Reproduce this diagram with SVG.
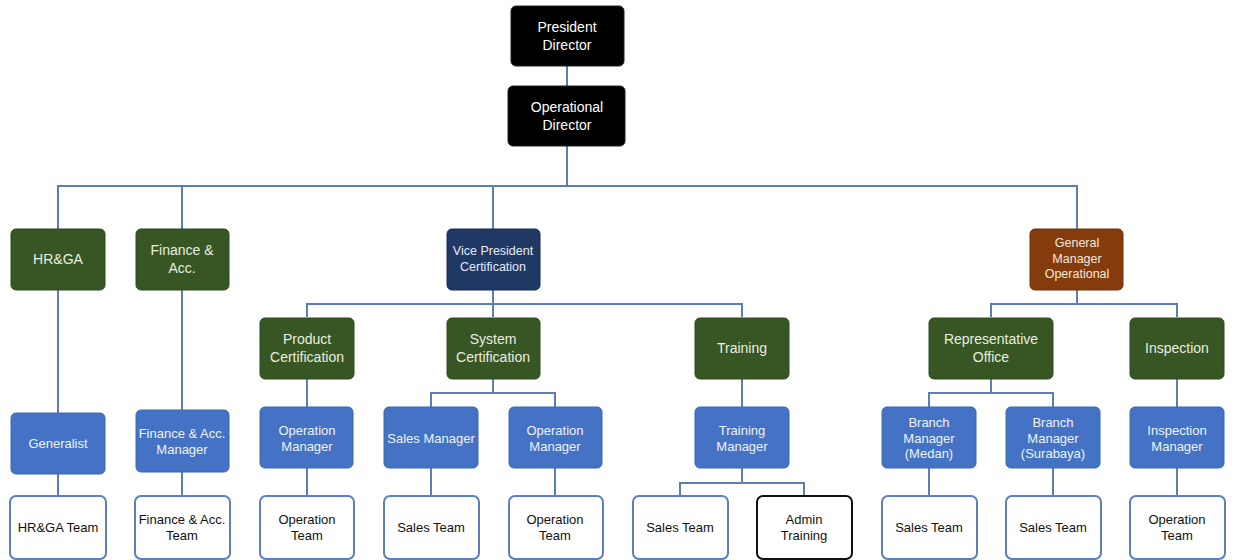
<svg xmlns="http://www.w3.org/2000/svg" width="1234" height="560" viewBox="0 0 1234 560">
<style>
text{font-family:"Liberation Sans",Arial,sans-serif;text-anchor:middle;dominant-baseline:central}
.blk rect{fill:#000;stroke:#222;stroke-width:1}
.blk text{fill:#fff;font-size:14px}
.grn rect{fill:#375623;stroke:#2d4a1c;stroke-width:1}
.grn text{fill:#e8eee2;font-size:14px}
.nav rect{fill:#1f3864;stroke:#182c50;stroke-width:1}
.nav text{fill:#e6ecf7;font-size:12.5px}
.brn rect{fill:#843c0c;stroke:#6e320a;stroke-width:1}
.brn text{fill:#f6e8dc;font-size:12.5px}
.blu rect{fill:#4472c4;stroke:#3d66b0;stroke-width:1}
.blu text{fill:#eef2fa;font-size:13px}
.wht rect{fill:#fff;stroke:#5b7fbf;stroke-width:2}
.wht text{fill:#111;font-size:13px}
.wht.adm rect{stroke:#111}
#connectors path{fill:none;stroke:#5d7eb5;stroke-width:2}
</style>
<g id="connectors">
<path d="M567 66V86M567 146V186M58 229V186H1077V229M182 186V229M493 186V229"/>
<path d="M58 290V413M58 474V496M182 290V410M182 472V495"/>
<path d="M493 290V304M307 317V304H742V317M493 304V317"/>
<path d="M307 379V407M307 468V495"/>
<path d="M493 379V393M431 407V393H555V407M431 468V495M555 468V495"/>
<path d="M742 379V407M742 468V483M680 495V483H804V495"/>
<path d="M1077 290V304M991 317V304H1177V317"/>
<path d="M991 379V393M929 407V393H1053V407M929 468V495M1053 468V495"/>
<path d="M1177 379V407M1177 468V495"/>
</g>
<g id="president" class="blk"><rect x="511" y="6" width="113" height="60" rx="5"/><text x="567" y="27">President</text><text x="567" y="45">Director</text></g>
<g id="operational" class="blk"><rect x="508" y="86" width="117" height="60" rx="5"/><text x="567" y="107">Operational</text><text x="567" y="125">Director</text></g>
<g id="hrga" class="grn"><rect x="11" y="229" width="94" height="61" rx="5"/><text x="58" y="259">HR&amp;GA</text></g>
<g id="finance" class="grn"><rect x="136" y="229" width="93" height="61" rx="5"/><text x="182" y="250">Finance &amp;</text><text x="182" y="268">Acc.</text></g>
<g id="vp" class="nav"><rect x="447" y="229" width="93" height="61" rx="5"/><text x="493" y="251">Vice President</text><text x="493" y="267">Certification</text></g>
<g id="gm" class="brn"><rect x="1030" y="229" width="93" height="61" rx="5"/><text x="1077" y="243">General</text><text x="1077" y="259">Manager</text><text x="1077" y="274">Operational</text></g>
<g id="productcert" class="grn"><rect x="260" y="318" width="94" height="61" rx="5"/><text x="307" y="339">Product</text><text x="307" y="357">Certification</text></g>
<g id="systemcert" class="grn"><rect x="447" y="318" width="93" height="61" rx="5"/><text x="493" y="339">System</text><text x="493" y="357">Certification</text></g>
<g id="training" class="grn"><rect x="695" y="318" width="94" height="61" rx="5"/><text x="742" y="348">Training</text></g>
<g id="repoffice" class="grn"><rect x="929" y="318" width="124" height="61" rx="5"/><text x="991" y="339">Representative</text><text x="991" y="357">Office</text></g>
<g id="inspection" class="grn"><rect x="1130" y="318" width="94" height="61" rx="5"/><text x="1177" y="348">Inspection</text></g>
<g id="generalist" class="blu"><rect x="11" y="413" width="94" height="61" rx="5"/><text x="58" y="443">Generalist</text></g>
<g id="financemgr" class="blu"><rect x="136" y="410" width="93" height="62" rx="5"/><text x="182" y="433">Finance &amp; Acc.</text><text x="182" y="449">Manager</text></g>
<g id="opmgr1" class="blu"><rect x="260" y="407" width="93" height="61" rx="5"/><text x="307" y="430">Operation</text><text x="307" y="446">Manager</text></g>
<g id="salesmgr" class="blu"><rect x="384" y="407" width="94" height="61" rx="5"/><text x="431" y="438">Sales Manager</text></g>
<g id="opmgr2" class="blu"><rect x="509" y="407" width="93" height="61" rx="5"/><text x="555" y="430">Operation</text><text x="555" y="446">Manager</text></g>
<g id="trainingmgr" class="blu"><rect x="695" y="407" width="94" height="61" rx="5"/><text x="742" y="430">Training</text><text x="742" y="446">Manager</text></g>
<g id="branchmedan" class="blu"><rect x="882" y="407" width="94" height="61" rx="5"/><text x="929" y="422">Branch</text><text x="929" y="438">Manager</text><text x="929" y="453">(Medan)</text></g>
<g id="branchsby" class="blu"><rect x="1006" y="407" width="94" height="61" rx="5"/><text x="1053" y="422">Branch</text><text x="1053" y="438">Manager</text><text x="1053" y="453">(Surabaya)</text></g>
<g id="inspmgr" class="blu"><rect x="1130" y="407" width="94" height="61" rx="5"/><text x="1177" y="430">Inspection</text><text x="1177" y="446">Manager</text></g>
<g id="hrgateam" class="wht"><rect x="10" y="496" width="96" height="63" rx="6"/><text x="58" y="527">HR&amp;GA Team</text></g>
<g id="financeteam" class="wht"><rect x="135" y="496" width="95" height="63" rx="6"/><text x="182" y="519">Finance &amp; Acc.</text><text x="182" y="535">Team</text></g>
<g id="opteam1" class="wht"><rect x="260" y="496" width="94" height="63" rx="6"/><text x="307" y="519">Operation</text><text x="307" y="535">Team</text></g>
<g id="salesteam1" class="wht"><rect x="384" y="496" width="95" height="63" rx="6"/><text x="431" y="527">Sales Team</text></g>
<g id="opteam2" class="wht"><rect x="509" y="496" width="94" height="63" rx="6"/><text x="555" y="519">Operation</text><text x="555" y="535">Team</text></g>
<g id="salesteam2" class="wht"><rect x="633" y="496" width="95" height="63" rx="6"/><text x="680" y="527">Sales Team</text></g>
<g id="admintraining" class="wht adm"><rect x="757" y="496" width="95" height="63" rx="6"/><text x="804" y="519">Admin</text><text x="804" y="535">Training</text></g>
<g id="salesteam3" class="wht"><rect x="882" y="496" width="95" height="63" rx="6"/><text x="929" y="527">Sales Team</text></g>
<g id="salesteam4" class="wht"><rect x="1006" y="496" width="95" height="63" rx="6"/><text x="1053" y="527">Sales Team</text></g>
<g id="opteam3" class="wht"><rect x="1130" y="496" width="95" height="63" rx="6"/><text x="1177" y="519">Operation</text><text x="1177" y="535">Team</text></g>
</svg>
